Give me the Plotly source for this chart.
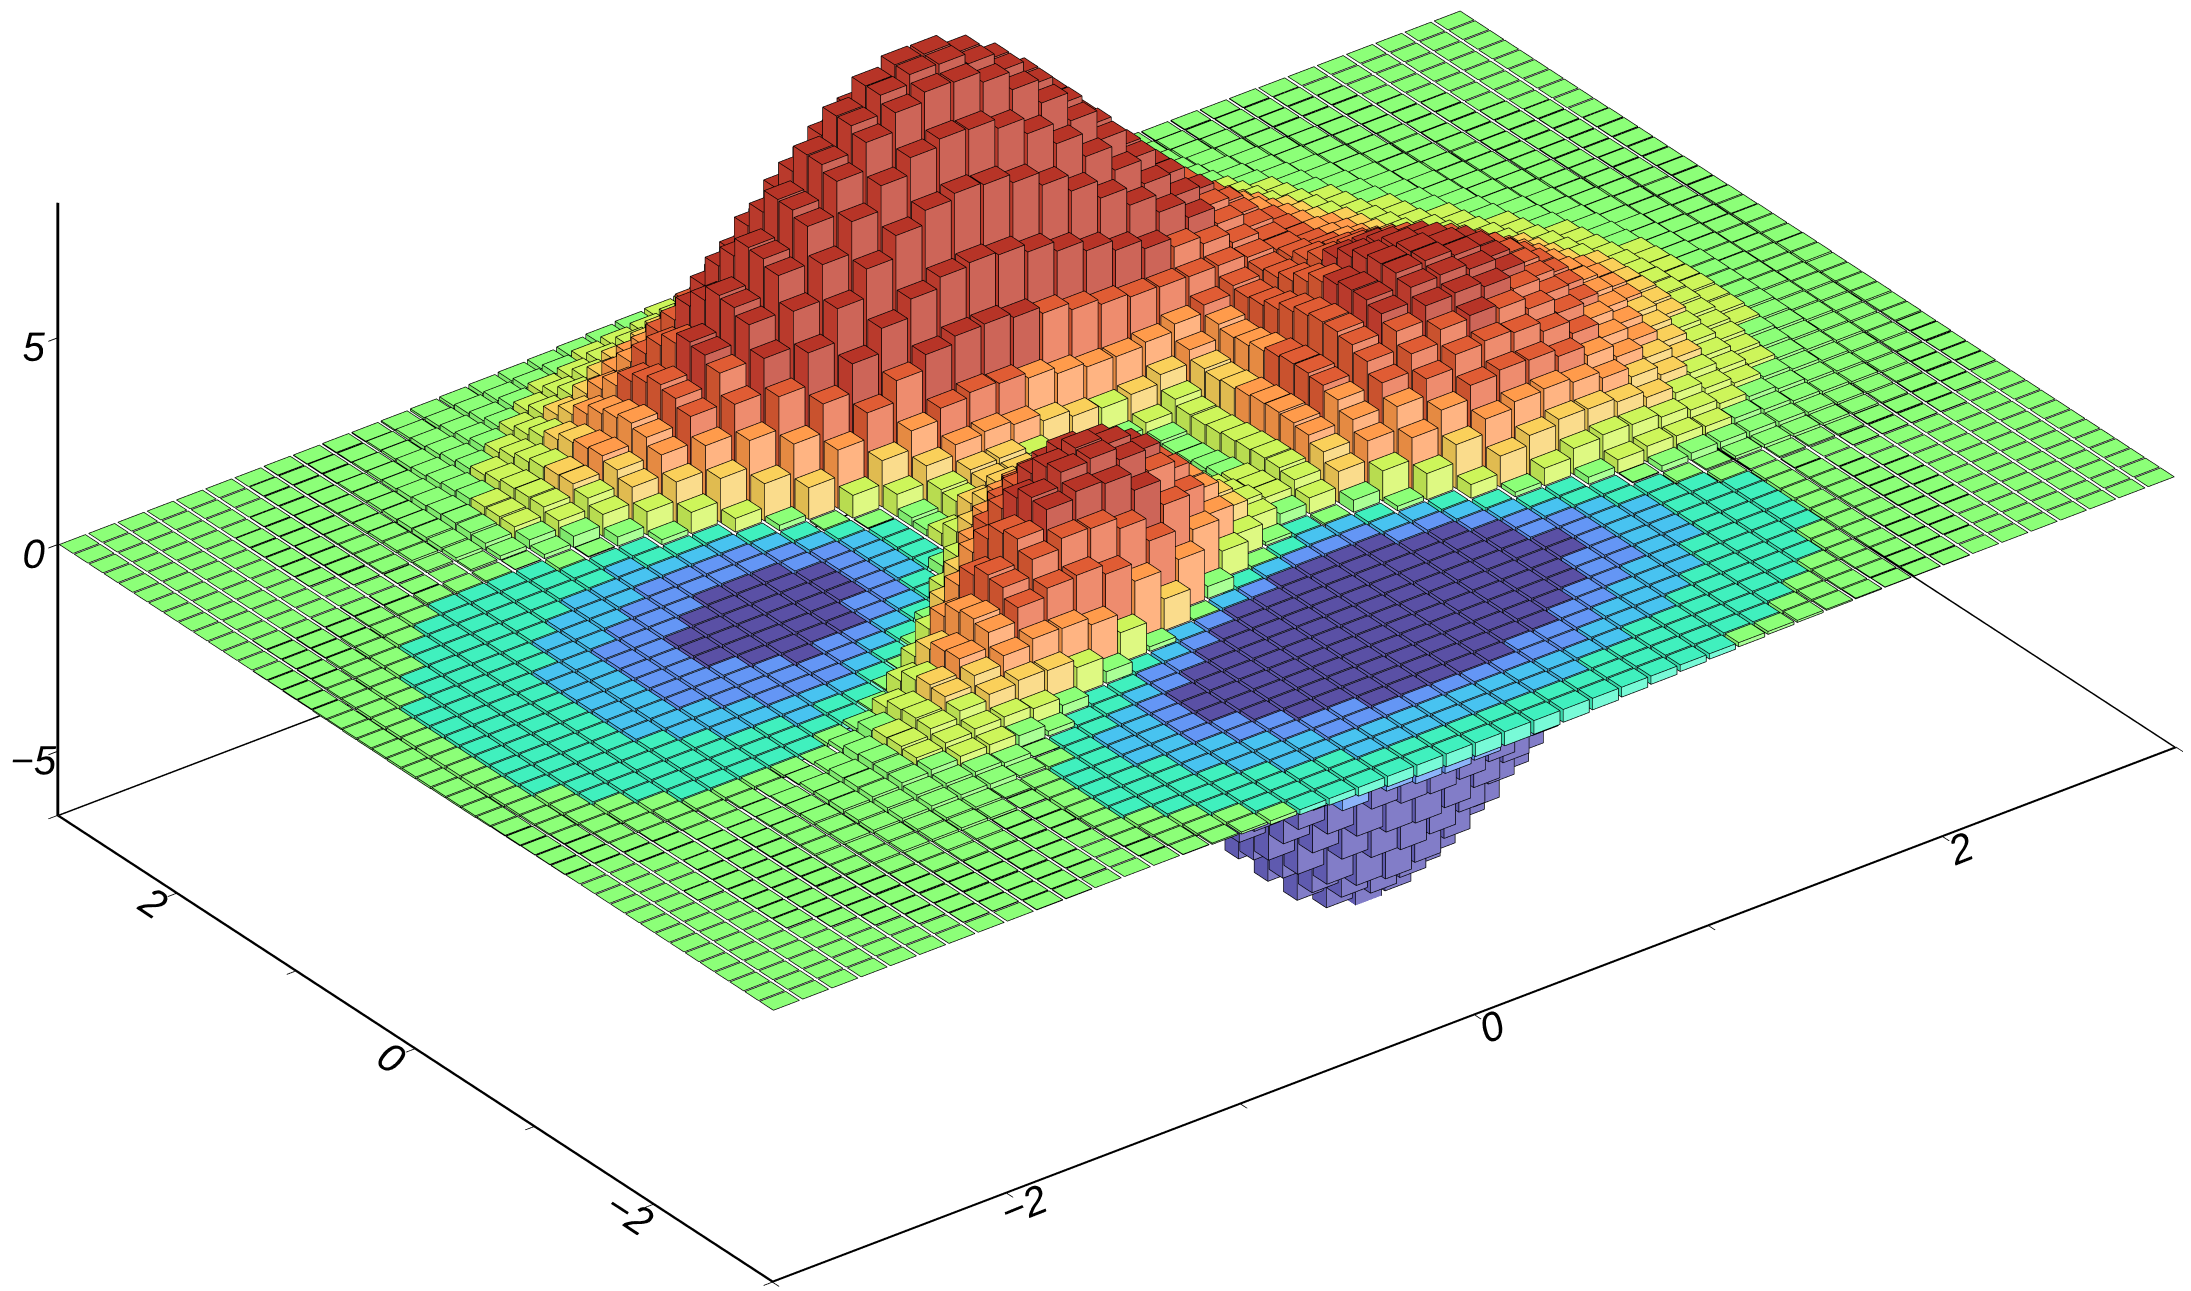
import plotly.graph_objects as go

x_centers = [-2.9375,-2.8125,-2.6875,-2.5625,-2.4375,-2.3125,-2.1875,-2.0625,-1.9375,-1.8125,-1.6875,-1.5625,-1.4375,-1.3125,-1.1875,-1.0625,-.9375,-.8125,-.6875,-.5625,-.4375,-.3125,-.1875,-.0625,.0625,.1875,.3125,.4375,.5625,.6875,.8125,.9375,1.0625,1.1875,1.3125,1.4375,1.5625,1.6875,1.8125,1.9375,2.0625,2.1875,2.3125,2.4375,2.5625,2.6875,2.8125,2.9375]
y_centers = list(x_centers)

z_row_00 = [0,0,0,0,0,0,0,0,0,.01,.01,0,0,0,-.01,-.03,-.05,-.09,-.12,-.16,-.21,-.25,-.28,-.31,-.33,-.34,-.33,-.31,-.28,-.24,-.2,-.16,-.13,-.1,-.07,-.05,-.03,-.02,-.01,-.01,-.01,0,0,0,0,0,0,0]
z_row_01 = [0,0,0,0,0,0,0,.01,.01,.01,.01,.01,0,-.01,-.03,-.06,-.09,-.15,-.2,-.27,-.34,-.41,-.47,-.52,-.55,-.56,-.54,-.51,-.46,-.4,-.33,-.27,-.21,-.16,-.11,-.08,-.05,-.03,-.02,-.01,-.01,0,0,0,0,0,0,0]
z_row_02 = [0,0,0,0,0,0,.01,.01,.01,.01,.01,.01,0,-.02,-.05,-.1,-.16,-.24,-.34,-.45,-.56,-.67,-.76,-.83,-.88,-.89,-.86,-.81,-.73,-.63,-.53,-.43,-.33,-.25,-.18,-.12,-.08,-.05,-.03,-.02,-.01,-.01,0,0,0,0,0,0]
z_row_03 = [0,0,0,0,0,.01,.01,.01,.02,.02,.02,.01,0,-.03,-.08,-.15,-.24,-.36,-.5,-.67,-.84,-1,-1.14,-1.26,-1.32,-1.34,-1.3,-1.22,-1.1,-.95,-.8,-.64,-.5,-.37,-.27,-.19,-.13,-.08,-.05,-.03,-.02,-.01,0,0,0,0,0,0]
z_row_04 = [0,0,0,0,.01,.01,.01,.02,.02,.02,.02,.01,-.01,-.05,-.12,-.22,-.36,-.54,-.75,-.99,-1.23,-1.47,-1.67,-1.84,-1.93,-1.95,-1.9,-1.78,-1.6,-1.39,-1.16,-.93,-.73,-.54,-.39,-.27,-.18,-.11,-.07,-.04,-.02,-.01,-.01,0,0,0,0,0]
z_row_05 = [0,0,0,.01,.01,.01,.02,.02,.03,.03,.03,.02,-.01,-.06,-.15,-.29,-.47,-.72,-1,-1.33,-1.67,-2,-2.28,-2.51,-2.64,-2.68,-2.6,-2.44,-2.2,-1.91,-1.6,-1.28,-.99,-.74,-.53,-.37,-.24,-.15,-.09,-.05,-.03,-.02,-.01,0,0,0,0,0]
z_row_06 = [0,0,0,.01,.01,.01,.02,.03,.03,.04,.04,.02,-.02,-.09,-.21,-.4,-.65,-.97,-1.35,-1.8,-2.25,-2.7,-3.08,-3.4,-3.57,-3.62,-3.52,-3.3,-2.97,-2.58,-2.15,-1.73,-1.34,-1,-.71,-.49,-.32,-.2,-.12,-.07,-.04,-.02,-.01,0,0,0,0,0]
z_row_07 = [0,0,0,.01,.01,.02,.03,.04,.05,.06,.07,.05,.01,-.07,-.2,-.42,-.72,-1.12,-1.58,-2.14,-2.71,-3.28,-3.77,-4.19,-4.42,-4.5,-4.39,-4.13,-3.72,-3.23,-2.7,-2.16,-1.67,-1.24,-.88,-.6,-.39,-.24,-.14,-.08,-.04,-.02,-.01,0,0,0,0,0]
z_row_08 = [0,0,0,.01,.01,.02,.03,.04,.06,.07,.08,.07,.03,-.06,-.21,-.47,-.81,-1.28,-1.84,-2.52,-3.21,-3.91,-4.52,-5.03,-5.33,-5.44,-5.31,-5,-4.51,-3.91,-3.26,-2.61,-2,-1.48,-1.05,-.7,-.46,-.28,-.16,-.09,-.04,-.02,-.01,0,0,0,0,0]
z_row_09 = [0,0,.01,.01,.01,.02,.04,.06,.08,.1,.13,.13,.12,.05,-.09,-.34,-.69,-1.19,-1.8,-2.55,-3.33,-4.14,-4.85,-5.47,-5.85,-6.02,-5.91,-5.58,-5.04,-4.37,-3.64,-2.9,-2.22,-1.62,-1.14,-.75,-.48,-.28,-.15,-.08,-.04,-.01,0,0,0,0,0,0]
z_row_10 = [0,0,0,.01,.01,.02,.04,.06,.09,.12,.16,.17,.18,.13,.01,-.23,-.59,-1.11,-1.75,-2.57,-3.44,-4.35,-5.16,-5.89,-6.34,-6.56,-6.47,-6.13,-5.55,-4.8,-3.99,-3.16,-2.4,-1.73,-1.2,-.77,-.47,-.26,-.13,-.06,-.02,0,.01,.01,.01,.01,0,0]
z_row_11 = [0,0,0,.01,.01,.02,.04,.07,.11,.15,.22,.27,.32,.33,.28,.12,-.16,-.62,-1.21,-2.01,-2.88,-3.83,-4.71,-5.52,-6.06,-6.36,-6.34,-6.04,-5.49,-4.75,-3.93,-3.08,-2.31,-1.63,-1.08,-.66,-.37,-.18,-.06,0,.03,.03,.03,.02,.02,.01,.01,0]
z_row_12 = [0,0,0,0,.01,.01,.03,.05,.1,.15,.23,.32,.41,.48,.5,.43,.24,-.13,-.65,-1.4,-2.24,-3.21,-4.12,-5.01,-5.62,-6.01,-6.05,-5.81,-5.29,-4.56,-3.75,-2.9,-2.12,-1.44,-.91,-.5,-.23,-.06,.03,.07,.08,.07,.06,.04,.03,.02,.01,.01]
z_row_13 = [0,0,-.01,-.01,-.01,0,.01,.03,.08,.14,.24,.36,.52,.68,.81,.88,.85,.65,.28,-.33,-1.08,-2,-2.9,-3.83,-4.52,-5,-5.14,-5,-4.57,-3.93,-3.18,-2.38,-1.66,-1.03,-.55,-.19,.02,.14,.18,.18,.16,.13,.09,.06,.04,.03,.02,.01]
z_row_14 = [-.01,-.01,-.01,-.02,-.03,-.03,-.03,-.01,.02,.08,.2,.34,.54,.79,1.03,1.24,1.38,1.36,1.18,.72,.11,-.73,-1.6,-2.55,-3.29,-3.86,-4.09,-4.06,-3.72,-3.15,-2.48,-1.75,-1.1,-.53,-.12,.17,.32,.38,.36,.32,.25,.19,.13,.09,.06,.04,.02,.01]
z_row_15 = [-.01,-.02,-.03,-.04,-.05,-.07,-.08,-.08,-.06,-.01,.1,.27,.51,.84,1.2,1.57,1.9,2.1,2.14,1.9,1.46,.76,-.04,-.98,-1.76,-2.41,-2.75,-2.82,-2.6,-2.14,-1.57,-.93,-.37,.11,.42,.63,.69,.67,.58,.48,.37,.27,.19,.12,.08,.05,.03,.02]
z_row_16 = [-.01,-.02,-.04,-.06,-.09,-.12,-.16,-.19,-.19,-.17,-.08,.08,.33,.72,1.15,1.66,2.15,2.56,2.8,2.77,2.5,1.93,1.21,.29,-.5,-1.21,-1.62,-1.77,-1.62,-1.24,-.73,-.16,.33,.75,.98,1.1,1.08,.98,.82,.66,.5,.36,.24,.16,.1,.06,.04,.02]
z_row_17 = [-.02,-.03,-.06,-.09,-.13,-.18,-.25,-.31,-.36,-.38,-.34,-.2,.04,.46,.96,1.58,2.22,2.82,3.26,3.43,3.35,2.92,2.3,1.43,.64,-.1,-.56,-.77,-.68,-.34,.11,.63,1.06,1.41,1.56,1.6,1.49,1.32,1.08,.86,.64,.46,.31,.2,.13,.08,.04,.03]
z_row_18 = [-.02,-.04,-.07,-.11,-.17,-.25,-.35,-.46,-.57,-.64,-.66,-.58,-.37,.03,.55,1.25,1.98,2.72,3.32,3.66,3.72,3.42,2.88,2.06,1.29,.55,.08,-.14,-.05,.29,.73,1.26,1.66,1.99,2.09,2.06,1.88,1.63,1.33,1.04,.77,.55,.37,.24,.15,.09,.05,.03]
z_row_19 = [-.03,-.05,-.09,-.15,-.22,-.33,-.47,-.62,-.79,-.93,-1.03,-1.02,-.88,-.51,-.01,.71,1.5,2.35,3.07,3.55,3.74,3.55,3.1,2.35,1.61,.9,.45,.26,.38,.75,1.22,1.78,2.18,2.5,2.56,2.49,2.25,1.93,1.56,1.22,.9,.64,.43,.28,.18,.11,.06,.04]
z_row_20 = [-.04,-.06,-.11,-.18,-.27,-.4,-.58,-.78,-1.01,-1.22,-1.4,-1.48,-1.42,-1.11,-.65,.07,.89,1.79,2.58,3.16,3.46,3.37,2.99,2.3,1.61,.95,.55,.42,.58,.99,1.5,2.12,2.55,2.87,2.94,2.84,2.56,2.19,1.76,1.37,1.01,.72,.48,.31,.2,.12,.07,.04]
z_row_21 = [-.04,-.07,-.13,-.2,-.31,-.47,-.68,-.93,-1.22,-1.5,-1.76,-1.92,-1.94,-1.72,-1.32,-.62,.17,1.12,1.95,2.6,2.96,2.95,2.64,2.03,1.4,.81,.46,.4,.64,1.16,1.74,2.4,2.86,3.21,3.25,3.13,2.81,2.4,1.93,1.51,1.11,.79,.53,.35,.22,.13,.08,.04]
z_row_22 = [-.04,-.08,-.14,-.22,-.35,-.52,-.76,-1.05,-1.38,-1.71,-2.05,-2.28,-2.38,-2.23,-1.89,-1.24,-.47,.49,1.33,2.04,2.45,2.51,2.26,1.72,1.15,.62,.34,.34,.64,1.22,1.86,2.57,3.05,3.42,3.45,3.32,2.98,2.54,2.05,1.6,1.17,.83,.56,.36,.23,.14,.08,.04]
z_row_23 = [-.05,-.08,-.15,-.24,-.37,-.55,-.82,-1.13,-1.5,-1.88,-2.27,-2.56,-2.74,-2.65,-2.39,-1.78,-1.06,-.12,.72,1.45,1.9,2.01,1.83,1.36,.86,.41,.19,.25,.61,1.24,1.92,2.65,3.15,3.53,3.56,3.42,3.06,2.61,2.1,1.64,1.21,.86,.57,.38,.23,.14,.08,.05]
z_row_24 = [-.05,-.09,-.15,-.24,-.38,-.57,-.84,-1.17,-1.56,-1.96,-2.38,-2.71,-2.93,-2.9,-2.69,-2.14,-1.47,-.57,.25,.98,1.45,1.6,1.47,1.07,.63,.24,.07,.18,.58,1.22,1.91,2.65,3.15,3.52,3.55,3.41,3.06,2.61,2.1,1.63,1.2,.85,.57,.37,.23,.14,.08,.05]
z_row_25 = [-.05,-.08,-.15,-.24,-.37,-.56,-.84,-1.16,-1.55,-1.96,-2.4,-2.75,-3,-3.02,-2.86,-2.37,-1.76,-.92,-.14,.57,1.04,1.21,1.12,.8,.42,.1,-.02,.12,.53,1.17,1.85,2.57,3.05,3.41,3.44,3.3,2.95,2.52,2.03,1.58,1.16,.82,.55,.36,.23,.13,.08,.04]
z_row_26 = [-.04,-.08,-.14,-.23,-.36,-.53,-.8,-1.11,-1.49,-1.88,-2.31,-2.67,-2.93,-2.97,-2.85,-2.42,-1.87,-1.09,-.37,.3,.75,.94,.89,.62,.3,.03,-.06,.1,.5,1.11,1.75,2.43,2.88,3.21,3.23,3.1,2.77,2.37,1.9,1.48,1.09,.77,.52,.34,.21,.13,.07,.04]
z_row_27 = [-.04,-.07,-.13,-.21,-.33,-.49,-.74,-1.02,-1.37,-1.74,-2.15,-2.48,-2.74,-2.8,-2.71,-2.32,-1.83,-1.14,-.48,.15,.57,.77,.75,.53,.27,.05,-.01,.15,.51,1.07,1.64,2.25,2.65,2.95,2.96,2.83,2.53,2.16,1.73,1.35,.99,.7,.47,.31,.19,.12,.07,.04]
z_row_28 = [-.04,-.07,-.11,-.18,-.29,-.44,-.65,-.91,-1.22,-1.55,-1.91,-2.21,-2.44,-2.48,-2.4,-2.05,-1.61,-.97,-.37,.21,.62,.83,.84,.68,.46,.28,.22,.35,.65,1.12,1.6,2.11,2.43,2.67,2.67,2.54,2.26,1.92,1.54,1.2,.88,.62,.42,.27,.17,.1,.06,.03]
z_row_29 = [-.03,-.06,-.1,-.16,-.25,-.37,-.56,-.77,-1.04,-1.32,-1.62,-1.86,-2.04,-2.06,-1.96,-1.63,-1.2,-.6,-.02,.54,.96,1.2,1.25,1.15,.97,.81,.74,.8,1.01,1.34,1.69,2.06,2.28,2.44,2.39,2.24,1.98,1.68,1.34,1.04,.76,.54,.36,.23,.15,.09,.05,.03]
z_row_30 = [-.03,-.05,-.08,-.13,-.2,-.31,-.46,-.63,-.85,-1.06,-1.3,-1.48,-1.59,-1.56,-1.42,-1.07,-.63,-.03,.55,1.12,1.57,1.85,1.96,1.91,1.77,1.61,1.5,1.48,1.56,1.73,1.92,2.12,2.22,2.27,2.16,1.99,1.73,1.45,1.15,.88,.64,.45,.3,.2,.12,.07,.04,.02]
z_row_31 = [-.02,-.04,-.06,-.1,-.16,-.24,-.35,-.49,-.64,-.8,-.96,-1.06,-1.09,-.99,-.77,-.37,.13,.77,1.41,2.04,2.55,2.91,3.09,3.11,3,2.83,2.65,2.51,2.42,2.39,2.37,2.37,2.3,2.21,2.02,1.8,1.53,1.25,.98,.75,.54,.38,.25,.16,.1,.06,.03,.02]
z_row_32 = [-.02,-.03,-.05,-.08,-.12,-.18,-.26,-.35,-.46,-.55,-.64,-.66,-.61,-.43,-.14,.33,.9,1.59,2.29,2.99,3.58,4.02,4.28,4.36,4.28,4.08,3.83,3.57,3.31,3.08,2.85,2.66,2.42,2.2,1.92,1.65,1.36,1.09,.84,.63,.45,.31,.2,.13,.08,.05,.03,.02]
z_row_33 = [-.01,-.02,-.04,-.06,-.09,-.12,-.18,-.23,-.29,-.33,-.34,-.28,-.15,.12,.51,1.06,1.71,2.5,3.29,4.09,4.78,5.32,5.66,5.8,5.74,5.52,5.19,4.78,4.34,3.9,3.46,3.06,2.64,2.28,1.9,1.56,1.25,.97,.72,.53,.37,.26,.17,.11,.06,.04,.02,.01]
z_row_34 = [-.01,-.01,-.02,-.04,-.06,-.08,-.11,-.13,-.15,-.14,-.1,.02,.22,.56,1.01,1.62,2.35,3.19,4.06,4.92,5.69,6.29,6.7,6.88,6.84,6.6,6.2,5.69,5.11,4.51,3.91,3.34,2.8,2.32,1.87,1.48,1.15,.86,.63,.45,.31,.21,.13,.08,.05,.03,.02,.01]
z_row_35 = [0,-.01,-.02,-.02,-.03,-.04,-.05,-.05,-.04,.01,.1,.27,.53,.92,1.43,2.09,2.87,3.77,4.69,5.61,6.43,7.1,7.55,7.78,7.75,7.48,7.03,6.44,5.74,5.01,4.27,3.57,2.92,2.35,1.84,1.41,1.06,.78,.55,.39,.26,.17,.11,.07,.04,.02,.01,.01]
z_row_36 = [0,-.01,-.01,-.01,-.02,-.02,-.01,0,.04,.1,.22,.41,.69,1.1,1.62,2.29,3.07,3.95,4.86,5.77,6.6,7.27,7.74,7.97,7.95,7.69,7.23,6.6,5.87,5.09,4.3,3.55,2.86,2.26,1.74,1.3,.96,.69,.48,.33,.22,.14,.09,.05,.03,.02,.01,.01]
z_row_37 = [0,0,0,0,0,0,.01,.04,.09,.17,.3,.51,.8,1.21,1.73,2.39,3.15,4.01,4.9,5.79,6.6,7.27,7.73,7.97,7.96,7.7,7.24,6.61,5.86,5.05,4.25,3.47,2.77,2.16,1.64,1.21,.87,.61,.42,.28,.18,.12,.07,.04,.02,.01,.01,.01]
z_row_38 = [0,0,0,0,0,.01,.03,.06,.1,.19,.31,.51,.78,1.15,1.62,2.21,2.89,3.66,4.46,5.25,5.97,6.57,6.99,7.21,7.2,6.97,6.55,5.98,5.29,4.56,3.81,3.1,2.46,1.9,1.43,1.04,.74,.52,.35,.23,.15,.09,.06,.03,.02,.01,.01,0]
z_row_39 = [0,0,0,0,.01,.02,.03,.06,.11,.19,.31,.49,.73,1.06,1.48,2,2.6,3.28,3.98,4.68,5.31,5.84,6.22,6.41,6.41,6.21,5.83,5.32,4.71,4.04,3.37,2.74,2.15,1.65,1.24,.89,.63,.43,.29,.19,.12,.07,.04,.03,.01,.01,.01,0]
z_row_40 = [0,0,0,0,.01,.02,.03,.06,.1,.17,.27,.42,.62,.89,1.24,1.66,2.16,2.71,3.28,3.85,4.38,4.81,5.12,5.28,5.28,5.11,4.8,4.38,3.87,3.32,2.77,2.24,1.76,1.34,1,.72,.51,.34,.23,.15,.09,.06,.03,.02,.01,.01,0,0]
z_row_41 = [0,0,0,0,.01,.02,.03,.05,.08,.14,.22,.34,.5,.72,1,1.34,1.73,2.17,2.62,3.07,3.49,3.83,4.08,4.21,4.21,4.07,3.83,3.49,3.08,2.64,2.2,1.78,1.39,1.06,.79,.56,.39,.27,.18,.11,.07,.04,.03,.01,.01,0,0,0]
z_row_42 = [0,0,0,0,.01,.01,.02,.04,.07,.11,.17,.26,.38,.54,.75,.99,1.28,1.61,1.94,2.28,2.58,2.84,3.02,3.11,3.11,3.02,2.83,2.58,2.28,1.95,1.63,1.31,1.03,.78,.58,.41,.29,.19,.13,.08,.05,.03,.02,.01,.01,0,0,0]
z_row_43 = [0,0,0,0,.01,.01,.02,.03,.05,.08,.12,.19,.28,.4,.54,.72,.93,1.17,1.41,1.65,1.87,2.06,2.19,2.26,2.26,2.19,2.06,1.88,1.66,1.42,1.18,.95,.74,.56,.42,.3,.21,.14,.09,.06,.04,.02,.01,.01,0,0,0,0]
z_row_44 = [0,0,0,0,0,.01,.01,.02,.04,.06,.09,.13,.19,.27,.38,.5,.64,.8,.97,1.14,1.29,1.42,1.51,1.55,1.55,1.5,1.42,1.29,1.14,.97,.81,.65,.51,.39,.28,.2,.14,.09,.06,.04,.02,.01,.01,0,0,0,0,0]
z_row_45 = [0,0,0,0,0,0,.01,.01,.02,.04,.06,.09,.13,.18,.25,.33,.43,.53,.64,.75,.85,.93,.99,1.03,1.03,.99,.93,.85,.75,.64,.53,.43,.33,.25,.19,.13,.09,.06,.04,.03,.02,.01,.01,0,0,0,0,0]
z_row_46 = [0,0,0,0,0,0,.01,.01,.02,.02,.04,.06,.08,.12,.16,.21,.27,.34,.41,.47,.54,.59,.63,.65,.65,.63,.59,.54,.47,.41,.34,.27,.21,.16,.12,.08,.06,.04,.02,.02,.01,.01,0,0,0,0,0,0]
z_row_47 = [0,0,0,0,0,0,0,.01,.01,.02,.02,.03,.05,.07,.1,.13,.16,.2,.24,.28,.32,.35,.38,.39,.39,.38,.35,.32,.28,.24,.2,.16,.13,.1,.07,.05,.03,.02,.02,.01,.01,0,0,0,0,0,0,0]
z_rows = [z_row_00,z_row_01,z_row_02,z_row_03,z_row_04,z_row_05,z_row_06,z_row_07,z_row_08,z_row_09,z_row_10,z_row_11,z_row_12,z_row_13,z_row_14,z_row_15,z_row_16,z_row_17,z_row_18,z_row_19,z_row_20,z_row_21,z_row_22,z_row_23,z_row_24,z_row_25,z_row_26,z_row_27,z_row_28,z_row_29,z_row_30,z_row_31,z_row_32,z_row_33,z_row_34,z_row_35,z_row_36,z_row_37,z_row_38,z_row_39,z_row_40,z_row_41,z_row_42,z_row_43,z_row_44,z_row_45,z_row_46,z_row_47]

band_limits = [-2.3, -1.35, -0.65, -0.1, 0.3, 0.75, 1.15, 1.85, 2.9]
top_colors = ['#5a50a5','#6496f5','#48c3f0','#40f0be','#8cff78','#cdf55a','#fad05a','#ff9b4b','#e05c34','#b73427']
front_colors = ['#827dc8','#8cb4fa','#82d8f5','#78fad7','#aaff96','#def982','#fadc8c','#ffb482','#ee8c6e','#cd6558']
left_colors = ['#5f5aaf','#5a88e0','#42aed8','#38d8aa','#7ee86c','#b8dc50','#e0bb50','#e58a42','#c9522e','#b93a2c']

def band(v):
    for b, lim in enumerate(band_limits):
        if v < lim:
            return b
    return len(band_limits)

view = (-0.5257, -0.688, 0.4978)
zoom = 1.825
aspect = dict(x=1.5*zoom, y=1*zoom, z=0.6*zoom)
cam_d = 4.0
center = (-0.0164, 0.0125, -0.3188)
xr, yr, zr = (-3, 3), (-3, 3), (-6.55, 8.27)
eps = 0.0012
ox = eps * view[0] * (xr[1]-xr[0]) / aspect['x']
oy = eps * view[1] * (yr[1]-yr[0]) / aspect['y']
oz = eps * view[2] * (zr[1]-zr[0]) / aspect['z']
hx, hy = 0.125*0.445, 0.125*0.46

vx, vy, vz, ti, tj, tk, fc = [], [], [], [], [], [], []
lx, ly, lz = [], [], []
def quad(p, col):
    n = len(vx)
    for a, b, c in p:
        vx.append(a); vy.append(b); vz.append(c)
    ti.extend([n, n]); tj.extend([n+1, n+2]); tk.extend([n+2, n+3]); fc.extend([col, col])
def seg(p):
    for a, b, c in p:
        lx.append(a+ox); ly.append(b+oy); lz.append(c+oz)
    lx.append(None); ly.append(None); lz.append(None)
for j, row in enumerate(z_rows):
    y = y_centers[j]
    for i, v in enumerate(row):
        x = x_centers[i]
        b = band(v)
        t, l = max(v, 0), min(v, 0)
        x0, x1, y0, y1 = x-hx, x+hx, y-hy, y+hy
        quad([(x0,y0,t),(x1,y0,t),(x1,y1,t),(x0,y1,t)], top_colors[b])
        if t > l:
            quad([(x0,y0,l),(x1,y0,l),(x1,y0,t),(x0,y0,t)], front_colors[b])
            quad([(x0,y0,l),(x0,y1,l),(x0,y1,t),(x0,y0,t)], left_colors[b])
        seg([(x0,y0,t),(x1,y0,t),(x1,y1,t),(x0,y1,t),(x0,y0,t)])
        if t > l:
            seg([(x1,y0,t),(x1,y0,l),(x0,y0,l),(x0,y1,l),(x0,y1,t)])
            seg([(x0,y0,t),(x0,y0,l)])

fig = go.Figure()
fig.add_trace(go.Mesh3d(x=vx, y=vy, z=vz, i=ti, j=tj, k=tk, facecolor=fc, flatshading=True,
    lighting=dict(ambient=1, diffuse=0, specular=0, roughness=1, fresnel=0), hoverinfo='skip', showscale=False))
fig.add_trace(go.Scatter3d(x=lx, y=ly, z=lz, mode='lines', line=dict(color='#000000', width=1.4), hoverinfo='skip', showlegend=False))
ins = 0.004
a, b = xr[0]+ins, xr[1]-ins
c, d = zr[0]+ins, zr[1]-ins
frame = [([a,b],[b,b],[c,c]), ([b,b],[b,a],[c,c]), ([a,b],[a,a],[c,c]), ([a,a],[b,a],[c,c]), ([a,a],[b,b],[c,d])]
for fx, fy, fz in frame:
    fig.add_trace(go.Scatter3d(x=fx, y=fy, z=fz, mode='lines', line=dict(color='#000000', width=3), hoverinfo='skip', showlegend=False))

tick_x = [-3,-2,-1,0,1,2,3]
lab_x = ['', '−2', '', '0', '', '2', '']
tick_z = [-5,0,5]
lab_z = ['−5','0','5']
axis_common = dict(showbackground=False, showgrid=False, zeroline=False, showspikes=False, showline=True,
    linecolor='#000000', linewidth=3, ticks='outside', ticklen=11, tickwidth=2, tickcolor='#000000', title=dict(text=''))
font = dict(family='Liberation Sans', size=22, color='#000000', style='italic')
fig.update_layout(
    width=2191, height=1291, margin=dict(l=0, r=0, t=0, b=0), paper_bgcolor='white', showlegend=False,
    scene=dict(
        domain=dict(x=[0,1], y=[0,1]),
        aspectmode='manual', aspectratio=aspect,
        xaxis=dict(range=list(xr), tickmode='array', tickvals=tick_x, ticktext=lab_x, tickangle=-22, tickfont=font, **axis_common),
        yaxis=dict(range=list(yr), tickmode='array', tickvals=tick_x, ticktext=lab_x, tickangle=33, tickfont=font, **axis_common),
        zaxis=dict(range=list(zr), tickmode='array', tickvals=tick_z, ticktext=lab_z, tickangle=0, tickfont=font, **axis_common),
        camera=dict(projection=dict(type='orthographic'), up=dict(x=0, y=0, z=1),
            center=dict(x=center[0], y=center[1], z=center[2]),
            eye=dict(x=center[0]+cam_d*view[0], y=center[1]+cam_d*view[1], z=center[2]+cam_d*view[2])),
    ),
)
fig.write_html("out.html")
